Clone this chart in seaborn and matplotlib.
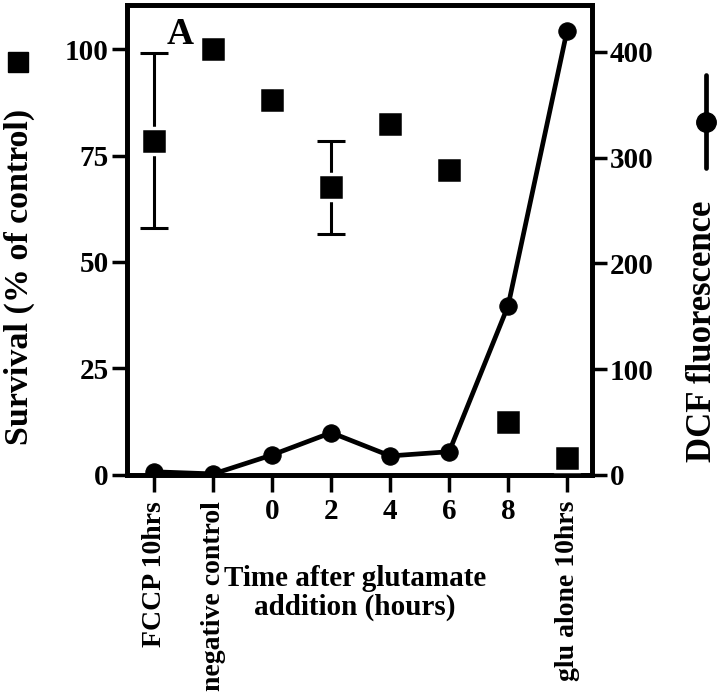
import numpy as np
import pandas as pd
import matplotlib
matplotlib.use("Agg")
import matplotlib.pyplot as plt
import seaborn as sns
from matplotlib.lines import Line2D

categories = ["FCCP 10hrs", "negative control", "0", "2", "4", "6", "8", "glu alone 10hrs"]
survival = [78.5, 100, 88, 67.5, 82.5, 71.5, 12.5, 4]
survival_err = [20.5, 0, 0, 11, 0, 0, 0, 0]
dcf = [3, 1, 19, 40, 18, 22, 160, 420]

sns.set_theme(style="white")
plt.rcParams['font.family'] = ['Liberation Serif', 'DejaVu Serif']
plt.rcParams['font.weight'] = 'bold'
for k in ['text.color', 'axes.labelcolor', 'xtick.color', 'ytick.color', 'axes.edgecolor']:
    plt.rcParams[k] = 'black'

pos = np.arange(len(categories))
df = pd.DataFrame({"pos": pos, "survival": survival, "dcf": dcf, "err": survival_err})

fig = plt.figure(figsize=(7.2, 6.94), dpi=100)
ax = fig.add_axes([0.176, 0.3156, 0.646, 0.677])
ax2 = ax.twinx()

# DCF line
sns.lineplot(data=df, x="pos", y="dcf", ax=ax2, color="black", linewidth=3.4,
             marker="o", markersize=12.5, markeredgecolor="black", zorder=3)
# survival error bars (only where present)
e = df[df["err"] > 0]
ax.errorbar(e["pos"], e["survival"], yerr=e["err"], fmt="none",
            ecolor="black", elinewidth=2.2, capsize=10, capthick=2.2, zorder=2)
sns.scatterplot(data=df, x="pos", y="survival", ax=ax, marker="s", s=360,
                color="black", edgecolor="white", linewidth=2.5, zorder=4)
ax.set_zorder(ax2.get_zorder() + 1)
ax.patch.set_visible(False)

ax.set_xlim(-0.47, 7.42)
ax.set_ylim(0, 110.3)
ax2.set_ylim(0, 444)
ax.set_yticks([0, 25, 50, 75, 100])
ax2.set_yticks([0, 100, 200, 300, 400])
ax.set_xticks(pos)
ax.set_xticklabels([])
ax.set_xlabel("")
ax.set_ylabel("")
ax2.set_ylabel("")
ax2.set_xlabel("")

for a in (ax, ax2):
    for s in a.spines.values():
        s.set_linewidth(3.4)
        s.set_color("black")
ax.tick_params(axis="y", direction="out", length=11, width=2.5, labelsize=21, pad=2, left=True)
ax2.tick_params(axis="y", direction="out", length=11, width=2.5, labelsize=21, pad=2, right=True)
ax.tick_params(axis="x", direction="out", length=12, width=2.5, bottom=True)
for lab in ax.get_yticklabels() + ax2.get_yticklabels():
    lab.set_fontweight("bold")

# x tick labels
trans = ax.get_xaxis_transform()
for p, c in zip(pos, categories):
    if c.isdigit():
        ax.text(p, -0.05, c, transform=trans, ha="center", va="top",
                fontsize=21, fontweight="bold")
    else:
        ax.text(p, -0.055, c, transform=trans, ha="center", va="top",
                rotation=90, fontsize=20, fontweight="bold")

fig.text(0.493, 0.145, "Time after glutamate\naddition (hours)", ha="center", va="center",
         fontsize=21, fontweight="bold", linespacing=1.08)

ax.text(0.114, 0.938, "A", transform=ax.transAxes, ha="center", va="center",
        fontsize=27, fontweight="bold")

fig.text(0.027, 0.601, "Survival (% of control)", rotation=90, ha="center", va="center",
         fontsize=24.5, fontweight="bold")
fig.text(0.976, 0.523, "DCF fluorescence", rotation=90, ha="center", va="center",
         fontsize=25, fontweight="bold")

# legend symbols
fig.add_artist(Line2D([0.025], [0.911], marker="s", markersize=14, color="black",
                      linestyle="none", transform=fig.transFigure))
fig.add_artist(Line2D([0.981, 0.981], [0.758, 0.892], color="black", linewidth=3.4,
                      transform=fig.transFigure))
fig.add_artist(Line2D([0.981], [0.824], marker="o", markersize=14, color="black",
                      linestyle="none", transform=fig.transFigure))

fig.savefig("out.png", dpi=100)
